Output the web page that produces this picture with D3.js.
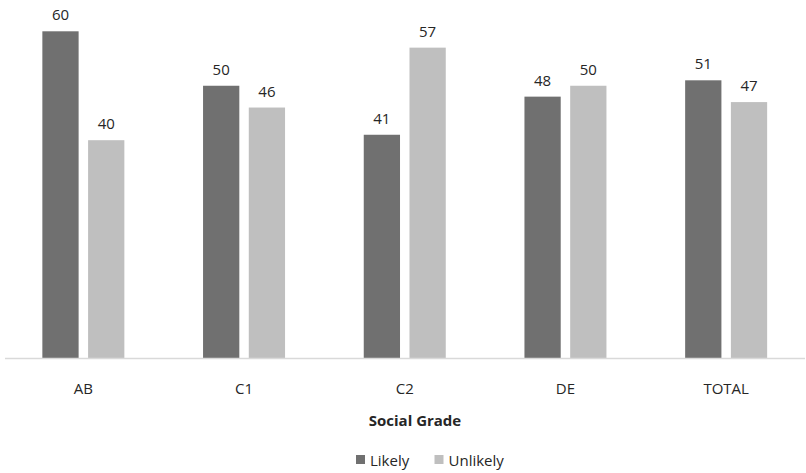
<!DOCTYPE html>
<html><head><meta charset="utf-8">
<script src="https://cdn.jsdelivr.net/npm/d3@7"></script>
<style>body{margin:0;background:#fff}svg{display:block}text{font-family:"Open Sans",Lato,sans-serif}</style>
</head><body>
<svg id="c" width="806" height="473"></svg>
<script>
const categories = ["AB", "C1", "C2", "DE", "TOTAL"];
const seriesNames = ["Likely", "Unlikely"];
const likely = [60, 50, 41, 48, 51];
const unlikely = [40, 46, 57, 50, 47];
const colors = ["#707070", "#bfbfbf"];
const xTitle = "Social Grade";

const svg = d3.select("#c");
const base = 358;
const x = d3.scaleBand().domain(categories).range([3, 806.5]).paddingInner(0).paddingOuter(0);
const y = d3.scaleLinear().domain([0, 60]).range([base, 31.3]);
const xs = d3.scaleBand().domain(seriesNames).range([0, 82]).paddingInner(0.207);

const data = categories.map((c, i) => ({c, vals: [likely[i], unlikely[i]]}));

const g = svg.append("g");
const grp = g.selectAll("g.cat").data(data).join("g")
  .attr("transform", d => `translate(${x(d.c) + x.bandwidth()/2 - 41},0)`);

grp.selectAll("rect").data(d => d.vals.map((v, k) => ({v, k}))).join("rect")
  .attr("x", d => xs(seriesNames[d.k]))
  .attr("width", xs.bandwidth())
  .attr("y", d => y(d.v))
  .attr("height", d => base - y(d.v))
  .attr("fill", d => colors[d.k]);

grp.selectAll("text.v").data(d => d.vals.map((v, k) => ({v, k}))).join("text")
  .attr("class", "v")
  .attr("x", d => xs(seriesNames[d.k]) + xs.bandwidth()/2)
  .attr("y", d => y(d.v) - 11)
  .attr("text-anchor", "middle")
  .attr("font-size", 15)
  .attr("fill", "#262626")
  .text(d => d.v);

// x axis
const ax = svg.append("g").attr("transform", `translate(0,${base})`)
  .call(d3.axisBottom(x).tickSize(0).tickPadding(36));
ax.select(".domain").attr("stroke", "#d9d9d9").attr("stroke-width", 1.3)
  .attr("d", "M5,0.5H805");
ax.selectAll("text").attr("font-size", 15).attr("fill", "#262626")
  .attr("font-family", '"Open Sans",Lato,sans-serif').attr("dy", "0");

svg.append("text").attr("x", 415).attr("y", 426).attr("text-anchor", "middle")
  .attr("font-size", 15).attr("font-weight", "bold").attr("fill", "#262626").text(xTitle);

// legend
const leg = svg.append("g");
const legX = [356, 434.5];
seriesNames.forEach((s, i) => {
  leg.append("rect").attr("x", legX[i]).attr("y", 455).attr("width", 9).attr("height", 9).attr("fill", colors[i]);
  leg.append("text").attr("x", legX[i] + 14).attr("y", 466).attr("font-size", 15).attr("fill", "#262626").text(s);
});
</script>
</body></html>
